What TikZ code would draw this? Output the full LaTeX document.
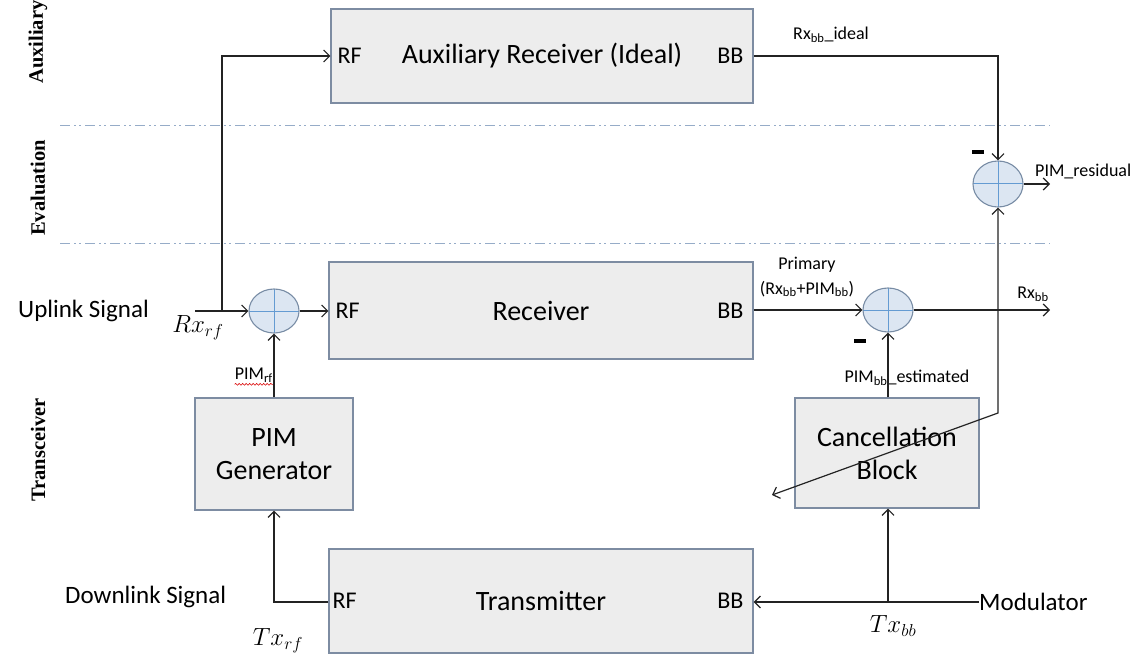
\documentclass[tikz,border=0pt]{standalone}
\usepackage{fontspec}
\setmainfont{Carlito}
\newfontfamily\timesfont{Liberation Serif}
\usetikzlibrary{arrows.meta,shapes.geometric,decorations.pathmorphing}
\definecolor{boxfill}{RGB}{237,237,237}
\definecolor{boxline}{RGB}{125,140,162}
\definecolor{circfill}{RGB}{220,230,242}
\definecolor{circline}{RGB}{120,140,165}
\definecolor{crossc}{RGB}{100,155,210}
\definecolor{sepc}{RGB}{150,172,200}
\definecolor{wirec}{RGB}{35,35,35}
\tikzset{
  blk/.style={rectangle, draw=boxline, fill=boxfill, line width=1.1pt, inner sep=0pt, align=center,
    font=\fontsize{28}{33}\selectfont},
  sumc/.style={ellipse, draw=circline, fill=circfill, line width=1.1pt, inner sep=0pt,
    minimum width=50pt, minimum height=44pt,
    path picture={\draw[crossc, line width=1pt] (path picture bounding box.north) -- (path picture bounding box.south)
      (path picture bounding box.west) -- (path picture bounding box.east);}},
  wire/.style={draw=wirec, line width=1.2pt},
  arr/.style={wire, -{Straight Barb[length=6pt,width=12pt]}},
  port/.style={inner sep=0pt, font=\fontsize{24}{28}\selectfont},
  sig/.style={inner sep=0pt, font=\fontsize{25}{30}\selectfont},
  small/.style={inner sep=0pt, font=\fontsize{18}{22}\selectfont},
  mathlbl/.style={inner sep=0pt, font=\fontsize{26}{30}\selectfont},
  zone/.style={inner sep=0pt, rotate=90, font=\timesfont\bfseries\fontsize{20.5}{24}\selectfont},
  sepline/.style={draw=sepc, line width=1pt, dash pattern=on 10pt off 4pt on 2pt off 3pt on 2pt off 4pt},
  minus/.style={inner sep=0pt},
}
\begin{document}
\begin{tikzpicture}[x=1pt,y=-1pt]
\useasboundingbox (0,0) rectangle (1142,655);

% zone separators
\coordinate (s1a) at (60,126); \coordinate (s1b) at (1050,126);
\coordinate (s2a) at (60,243); \coordinate (s2b) at (1050,243);
\draw[sepline] (s1a) -- (s1b);
\draw[sepline] (s2a) -- (s2b);

% zone labels
\node[zone] (zaux) at (38,42) {Auxiliary};
\node[zone] (zeval) at (38,188) {Evaluation};
\node[zone] (ztrx) at (38,450) {Transceiver};

% blocks
\node[blk, minimum width=422pt, minimum height=94pt] (aux) at (542,56) {Auxiliary Receiver (Ideal)};
\node[blk, minimum width=424pt, minimum height=97pt] (rx) at (541,310.5) {Receiver};
\node[blk, minimum width=424pt, minimum height=104pt] (tx) at (541,601) {Transmitter};
\node[blk, minimum width=158pt, minimum height=112pt] (pim) at (274,454) {PIM\\Generator};
\node[blk, minimum width=184pt, minimum height=110pt] (canc) at (887,453) {Cancellation\\Block};

% ports
\node[port, anchor=west] (auxrf) at ([xshift=7pt]aux.west) {RF};
\node[port, anchor=east] (auxbb) at ([xshift=-10pt]aux.east) {BB};
\node[port, anchor=west] (rxrf) at ([xshift=7pt]rx.west) {RF};
\node[port, anchor=east] (rxbb) at ([xshift=-10pt]rx.east) {BB};
\node[port, anchor=west] (txrf) at ([xshift=4pt]tx.west) {RF};
\node[port, anchor=east] (txbb) at ([xshift=-10pt]tx.east) {BB};

% summing junctions
\node[sumc] (sL) at (274,311) {};
\node[sumc] (sM) at (888,310) {};
\node[sumc, minimum height=46pt] (sR) at (998,184) {};

% side texts
\node[sig, anchor=west] (uplink) at (18,311) {Uplink Signal};
\node[sig, anchor=west] (downlink) at (65,597) {Downlink Signal};
\node[sig, anchor=west] (mod) at (979,602) {Modulator};

% math labels
\node[mathlbl] (lrxrf) at (198,328) {$Rx_{rf}$};
\node[mathlbl] (ltxrf) at (278,641) {$Tx_{rf}$};
\node[mathlbl] (ltxbb) at (893,626) {$Tx_{bb}$};

% small labels
\node[small] (lideal) at (831,35) {Rx\textsubscript{bb}\_ideal};
\node[small, anchor=west] (lres) at (1035,171) {PIM\_residual};
\node[small] (lprim) at (807,265) {Primary};
\node[small] (lsum) at (807,289) {(Rx\textsubscript{bb}+PIM\textsubscript{bb})};
\node[small] (lrxbb) at (1033,294) {Rx\textsubscript{bb}};
\node[small] (lest) at (907,378) {PIM\textsubscript{bb}\_estimated};
\node[small, anchor=east] (lpimrf) at (273,375) {PIM\textsubscript{rf}};
\draw[red!85!black, line width=0.6pt, decorate, decoration={snake, amplitude=0.9pt, segment length=3.5pt}]
  ([yshift=-2pt]lpimrf.south west) -- ([yshift=-2pt]lpimrf.south east);

% minus signs
\node[minus] (m1) at (978,152) {\rule{12pt}{3.5pt}};
\node[minus] (m2) at (860,341) {\rule{12pt}{3.5pt}};

% coordinates
\coordinate (rxin) at (195,311);
\coordinate (br1) at (222,311);
\coordinate (rxout) at (1050,310);
\coordinate (resout) at (1050,184);
\coordinate (br2) at (888,602);
\coordinate (dcorner) at (998,413);
\coordinate (dend) at (772,495);

% connectors
\draw[arr] (rxin) -- (sL.west);
\draw[arr] (br1) |- (aux.west);
\draw[arr] (sL.east) -- (rx.west |- sL.east);
\draw[arr] (pim.north) -- (sL.south);
\draw[arr] (tx.west |- br2) -| (pim.south);
\draw[arr] (mod.west) -- (tx.east |- br2);
\draw[arr] (br2) -- (br2 |- canc.south);
\draw[arr] (sM |- canc.north) -- (sM.south);
\draw[arr] (rx.east |- sM.west) -- (sM.west);
\draw[arr] (sM.east) -- (rxout);
\draw[arr] (aux.east) -| (sR.north);
\draw[arr] (sR.east) -- (resout);
\draw[wire, {Straight Barb[length=6pt,width=12pt]}-{Straight Barb[length=6pt,width=12pt]}] (dend) -- (dcorner) -- (sR.south);
\end{tikzpicture}
\end{document}
